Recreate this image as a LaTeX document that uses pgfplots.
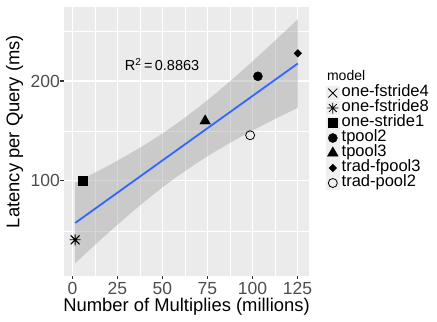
\documentclass[border=0pt]{standalone}
\usepackage{fontspec}
\setmainfont{Liberation Sans}
\usepackage{pgfplots}
\pgfplotsset{compat=1.18}
\definecolor{panel}{HTML}{EBEBEB}
\definecolor{grey30}{HTML}{4D4D4D}
\definecolor{grey20}{HTML}{333333}
\definecolor{grey60}{HTML}{999999}
\definecolor{keybg}{HTML}{EFEFEF}
\definecolor{fitblue}{HTML}{3366FF}
\pgfdeclareplotmark{star8}{%
  \pgfpathmoveto{\pgfqpoint{-\pgfplotmarksize}{0pt}}\pgfpathlineto{\pgfqpoint{\pgfplotmarksize}{0pt}}%
  \pgfpathmoveto{\pgfqpoint{0pt}{-\pgfplotmarksize}}\pgfpathlineto{\pgfqpoint{0pt}{\pgfplotmarksize}}%
  \pgfpathmoveto{\pgfqpoint{-.707\pgfplotmarksize}{-.707\pgfplotmarksize}}\pgfpathlineto{\pgfqpoint{.707\pgfplotmarksize}{.707\pgfplotmarksize}}%
  \pgfpathmoveto{\pgfqpoint{-.707\pgfplotmarksize}{.707\pgfplotmarksize}}\pgfpathlineto{\pgfqpoint{.707\pgfplotmarksize}{-.707\pgfplotmarksize}}%
  \pgfusepathqstroke}
\begin{document}
\begin{tikzpicture}
\useasboundingbox (-64bp,-46.5bp) rectangle (373bp,275.5bp);
\begin{axis}[
  at={(0,0)}, anchor=south west,
  scale only axis, width=245bp, height=268.5bp,
  xmin=-4.69, xmax=131.39, ymin=5.3, ymax=274.1,
  clip=false,
  axis background/.style={fill=panel},
  axis line style={draw=none},
  xtick={0,25,50,75,100,125}, ytick={100,200},
  minor xtick={12.5,37.5,62.5,87.5,112.5}, minor ytick={50,150,250},
  grid=both,
  major grid style={white, line width=1.1bp},
  minor grid style={white, line width=0.55bp},
  tick align=outside, major tick length=3.5bp, minor tick length=0pt,
  tick pos=left,
  tick style={grey20, line width=1.1bp},
  /pgf/number format/assume math mode=true,
  ticklabel style={font=\fontsize{17.5bp}{18bp}\selectfont, text=grey30, inner sep=0pt},
  xticklabel style={yshift=-2.8bp},
  yticklabel style={xshift=-0.5bp},
  xlabel={Number of Multiplies (millions)},
  ylabel={Latency per Query (ms)},
  label style={font=\fontsize{18.4bp}{19bp}\selectfont, inner sep=0pt},
  xlabel style={at={(axis description cs:0.5,0)}, anchor=base, yshift=-36bp},
  ylabel style={at={(axis description cs:-0.202,0.536)}, anchor=center},
  legend image code/.code={
    \fill[keybg] (0bp,-6.8bp) rectangle (13bp,6.8bp);
    \draw[mark repeat=2,mark phase=2] plot coordinates {(0bp,0bp) (6.5bp,0bp) (13bp,0bp)};
  },
  legend style={at={(axis description cs:1.069,0.7076)}, anchor=north west,
    draw=none, fill=none, inner sep=0pt, outer sep=0pt, row sep=0pt, column sep=2bp,
    font=\fontsize{16.5bp}{16.5bp}\selectfont,
    nodes={inner sep=0pt, text height=10.8bp, text depth=4.2bp}},
  legend cell align=left,
]
% points
\addplot[only marks, mark=x, mark size=6.3bp, black, line width=0.8bp] coordinates {(1.5,41)};
\addlegendentry{one-fstride4}
\addplot[only marks, mark=star8, mark size=5.5bp, black, line width=0.8bp] coordinates {(1.5,41)};
\addlegendentry{one-fstride8}
\addplot[only marks, mark=square*, mark size=4.4bp, black, line width=0.3bp] coordinates {(5.8,100)};
\addlegendentry{one-stride1}
\addplot[only marks, mark=*, mark size=4.6bp, black, line width=0.3bp] coordinates {(103,204.7)};
\addlegendentry{tpool2}
\addplot[only marks, mark=triangle*, mark size=6.2bp, black, line width=0.3bp] coordinates {(73.7,160)};
\addlegendentry{tpool3}
\addplot[only marks, mark=square*, mark size=2.7bp, mark options={rotate=45}, black, line width=0.3bp] coordinates {(125.2,227.7)};
\addlegendentry{trad-fpool3}
\addplot[only marks, mark=o, mark size=4.5bp, black, mark options={fill=white}, line width=0.8bp] coordinates {(98.7,145.7)};
\addlegendentry{trad-pool2}
% confidence ribbon
\addplot[forget plot, draw=none, fill=grey60, fill opacity=0.4] coordinates {
  (1.5,17.54) (10,31.79) (20,48.18) (30,64.04) (40,79.20) (50,93.48) (58.49,104.82)
  (70,118.99) (80,130.24) (90,140.67) (100,150.46) (110,159.75) (120,168.69) (125.2,173.22)
  (125.2,261.90) (120,253.01) (110,236.13) (100,219.60) (90,203.57) (80,188.18) (70,173.61)
  (58.49,158.06) (50,147.48) (40,135.94) (30,125.28) (20,115.32) (10,105.89) (1.5,98.20)
  (1.5,17.54)};
% fit line
\addplot[forget plot, fitblue, line width=1.8bp] coordinates {(1.5,57.87) (125.2,217.56)};
\node[font=\fontsize{14.5bp}{15bp}\selectfont, anchor=base] at (axis cs:49.8,210.5) {R\textsuperscript{2}\,=\,0.8863};
\node[font=\fontsize{14bp}{14bp}\selectfont, anchor=west, inner sep=0pt] at (axis description cs:1.073,0.7467) {model};
\end{axis}
\end{tikzpicture}
\end{document}
